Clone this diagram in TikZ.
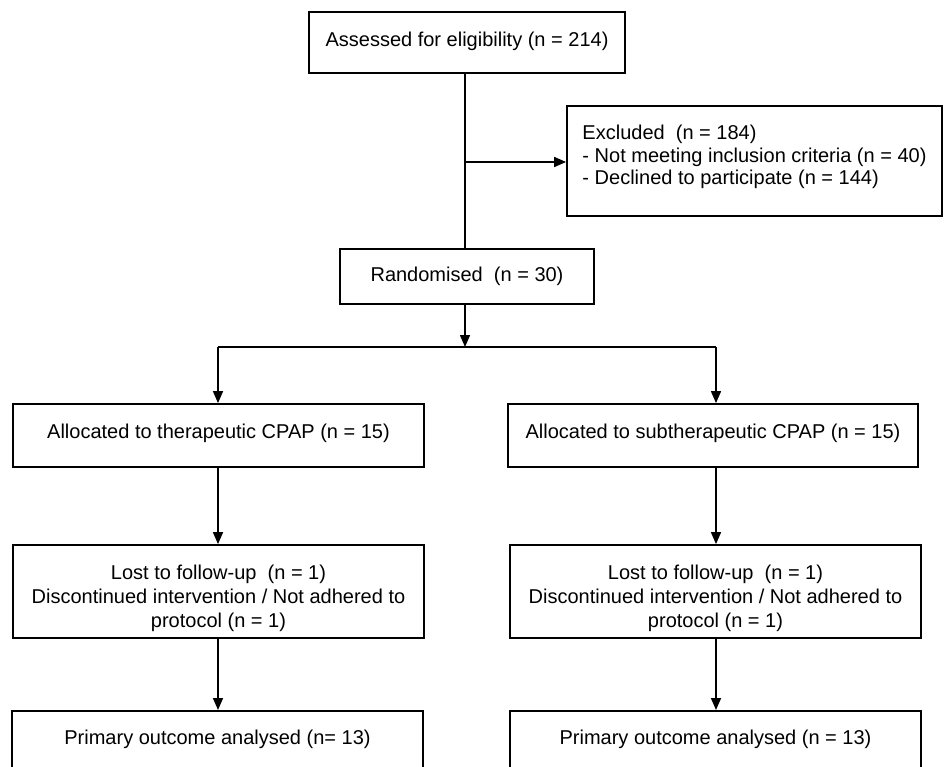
\documentclass[tikz,border=0pt]{standalone}
\usepackage{fontspec}
\setmainfont{Liberation Sans}
\usetikzlibrary{arrows.meta}
\begin{document}
\begin{tikzpicture}[x=1pt,y=-1pt,
  box/.style={draw, line width=1.8pt, inner sep=0pt, font=\fontsize{20}{24}\selectfont, align=center},
  conn/.style={line width=1.6pt},
  arr/.style={conn, -{Triangle[length=12pt,width=10pt]}}]
\useasboundingbox (0,0) rectangle (944,767);
\clip (0,0) rectangle (944,767);

\node[box, minimum width=316, minimum height=61] (top) at (467,42.5) {Assessed for eligibility (n = 214)\rule[-6pt]{0pt}{1pt}};
\node[box, minimum width=375, minimum height=110, align=left,
      font=\fontsize{20}{22.5}\selectfont] (excl) at (754.5,161)
  {Excluded~~(n = 184)\\- Not meeting inclusion criteria (n = 40)\\- Declined to participate (n = 144)\rule[-12pt]{0pt}{1pt}};
\node[box, minimum width=254, minimum height=55] (rand) at (467,276.5) {Randomised~ (n = 30)};

\node[box, minimum width=411, minimum height=63] (allocL) at (218.5,435.5) {Allocated to therapeutic CPAP (n = 15)\rule[-8pt]{0pt}{1pt}};
\node[box, minimum width=410, minimum height=63] (allocR) at (713,435.5) {Allocated to subtherapeutic CPAP (n = 15)\rule[-8pt]{0pt}{1pt}};

\node[box, minimum width=411, minimum height=93] (lostL) at (218.5,591.5) {\rule{0pt}{29pt}Lost to follow-up~ (n = 1)\\Discontinued intervention / Not adhered to\\protocol (n = 1)};
\node[box, minimum width=411, minimum height=93] (lostR) at (715.5,591.5) {\rule{0pt}{29pt}Lost to follow-up~ (n = 1)\\Discontinued intervention / Not adhered to\\protocol (n = 1)};

\node[box, anchor=north, minimum width=411, text height=34pt, text depth=46pt] (finL) at (217.5,710) {Primary outcome analysed (n= 13)};
\node[box, anchor=north, minimum width=411, text height=34pt, text depth=46pt] (finR) at (715.5,710) {Primary outcome analysed (n = 13)};

\coordinate (trunk) at (465,73);
\coordinate (branch) at (465,162);
\coordinate (split) at (465,347);
\coordinate (splitL) at (218,347);
\coordinate (splitR) at (716,347);

\draw[conn] (trunk) -- (trunk |- rand.north);
\draw[arr] (branch) -- (branch -| excl.west);
\draw[arr] (rand.south -| split) -- (split);
\draw[conn] (splitL) -- (splitR);
\draw[arr] (splitL) -- (splitL |- allocL.north);
\draw[arr] (splitR) -- (splitR |- allocR.north);
\draw[arr] (allocL.south -| splitL) -- (splitL |- lostL.north);
\draw[arr] (allocR.south -| splitR) -- (splitR |- lostR.north);
\draw[arr] (lostL.south -| splitL) -- (splitL |- finL.north);
\draw[arr] (lostR.south -| splitR) -- (splitR |- finR.north);
\end{tikzpicture}
\end{document}
